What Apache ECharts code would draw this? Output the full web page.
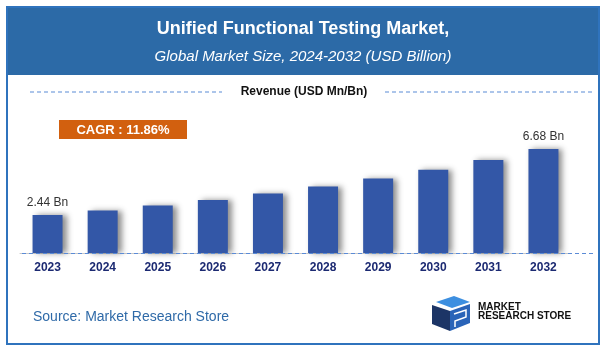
<!DOCTYPE html>
<html>
<head>
<meta charset="utf-8">
<script src="https://cdn.jsdelivr.net/npm/echarts@6/dist/echarts.min.js"></script>
<style>
  html, body { margin: 0; padding: 0; background: #fff; }
  #chart { width: 606px; height: 352px; }
</style>
</head>
<body>
<div id="chart"></div>
<script>
// data
const years = ['2023', '2024', '2025', '2026', '2027', '2028', '2029', '2030', '2031', '2032'];
const revenue = [2.44, 2.73, 3.05, 3.41, 3.82, 4.27, 4.78, 5.35, 5.98, 6.68];
const shownLabels = [0, 9]; // only first and last bars carry a value label

const chart = echarts.init(document.getElementById('chart'));

const barData = revenue.map((v, i) => ({
  value: v,
  label: { show: shownLabels.includes(i) }
}));

const dashBlue = '#5b8bd6';

const option = {
  animation: false,
  grid: { left: 20, right: 35, top: 128.5, bottom: 99 },
  xAxis: {
    type: 'category',
    data: years,
    axisLine: { lineStyle: { color: '#c8c8c8', width: 1 } },
    axisTick: { show: false },
    axisLabel: {
      color: '#1c2a72', fontWeight: 'bold', fontSize: 12,
      fontFamily: 'Liberation Sans Narrow, Liberation Sans, sans-serif', margin: 9
    }
  },
  yAxis: {
    type: 'value', min: 0, max: 8,
    show: false
  },
  series: [{
    type: 'bar',
    data: barData,
    barWidth: 30,
    itemStyle: {
      color: '#3357a7',
      shadowColor: 'rgba(0,0,0,0.45)',
      shadowBlur: 6,
      shadowOffsetX: 4
    },
    label: {
      position: 'top', distance: 6,
      formatter: p => p.value.toFixed(2) + ' Bn',
      color: '#333', fontSize: 12, fontFamily: 'Liberation Sans, sans-serif'
    }
  }],
  graphic: [
    // outer frame and header
    { type: 'rect', shape: { x: 7, y: 7, width: 592, height: 337 },
      style: { fill: 'none', stroke: '#2f73bd', lineWidth: 2 }, z: 10 },
    { type: 'rect', shape: { x: 7, y: 6, width: 592, height: 69 },
      style: { fill: '#2c6aa7' } },
    { type: 'text', x: 303, y: 29,
      style: { text: 'Unified Functional Testing Market,', fill: '#fff',
        font: 'bold 18px Liberation Sans, sans-serif', textAlign: 'center', textVerticalAlign: 'middle' } },
    { type: 'text', x: 303, y: 57,
      style: { text: 'Global Market Size, 2024-2032 (USD Billion)', fill: '#fff',
        font: 'italic 15px Liberation Sans, sans-serif', textAlign: 'center', textVerticalAlign: 'middle' } },
    // revenue legend line
    { type: 'line', shape: { x1: 30, y1: 92, x2: 222, y2: 92 },
      style: { stroke: dashBlue, lineWidth: 1.2, lineDash: [4, 3] } },
    { type: 'line', shape: { x1: 385, y1: 92, x2: 592, y2: 92 },
      style: { stroke: dashBlue, lineWidth: 1.2, lineDash: [4, 3] } },
    { type: 'text', x: 304, y: 92,
      style: { text: 'Revenue (USD Mn/Bn)', fill: '#111',
        font: 'bold 12px Liberation Sans, sans-serif', textAlign: 'center', textVerticalAlign: 'middle' } },
    // dashed baseline running past the last bar
    { type: 'line', shape: { x1: 22, y1: 253.5, x2: 594, y2: 253.5 },
      style: { stroke: dashBlue, lineWidth: 1.2, lineDash: [4, 3] }, z: 5 },
    // CAGR badge
    { type: 'rect', shape: { x: 59, y: 120, width: 128, height: 19 },
      style: { fill: '#d2600f' } },
    { type: 'text', x: 123, y: 130,
      style: { text: 'CAGR : 11.86%', fill: '#fff',
        font: 'bold 13px Liberation Sans, sans-serif', textAlign: 'center', textVerticalAlign: 'middle' } },
    // source
    { type: 'text', x: 33, y: 317,
      style: { text: 'Source: Market Research Store', fill: '#2f6aa8',
        font: '14px Liberation Sans, sans-serif', textVerticalAlign: 'middle' } },
    // logo (rough)
    { type: 'polygon', shape: { points: [[436, 302], [454, 296], [470, 302], [452, 308]] },
      style: { fill: '#3d8fe0' } },
    { type: 'polygon', shape: { points: [[432, 305], [450, 311], [450, 331], [432, 324]] },
      style: { fill: '#1c3566' } },
    { type: 'polygon', shape: { points: [[450, 311], [470, 304], [470, 323], [450, 331]] },
      style: { fill: '#2a64b8' } },
    { type: 'polyline', shape: { points: [[454, 314], [466, 310], [466, 317], [455, 321], [455, 327]] },
      style: { stroke: '#fff', lineWidth: 1.5, fill: 'none' } },
    { type: 'text', x: 478, y: 312,
      style: { text: 'MARKET\nRESEARCH STORE', fill: '#111', lineHeight: 9,
        font: 'bold 10px Liberation Sans Narrow, Liberation Sans, sans-serif', textVerticalAlign: 'middle' } }
  ]
};

chart.setOption(option);
</script>
</body>
</html>
